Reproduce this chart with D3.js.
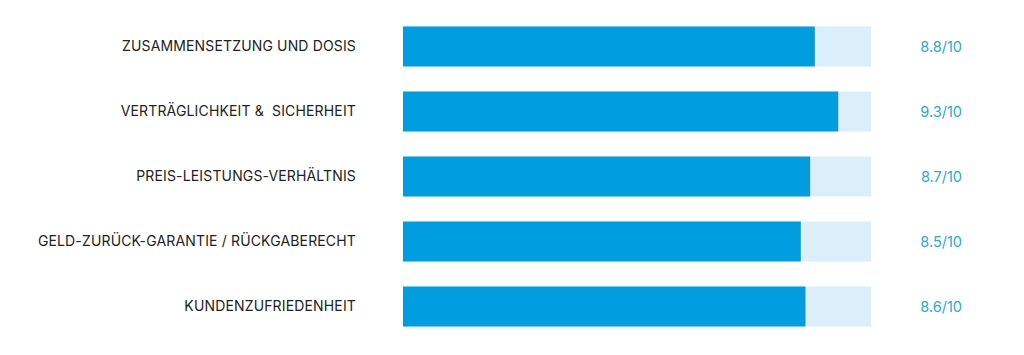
<!DOCTYPE html>
<html>
<head>
<meta charset="utf-8">
<script src="https://cdn.jsdelivr.net/npm/d3@7"></script>
<style>
  html, body { margin: 0; padding: 0; background: #ffffff; }
  svg { display: block; }
</style>
</head>
<body>
<script>
const categories = [
  "ZUSAMMENSETZUNG UND DOSIS",
  "VERTRÄGLICHKEIT &  SICHERHEIT",
  "PREIS-LEISTUNGS-VERHÄLTNIS",
  "GELD-ZURÜCK-GARANTIE / RÜCKGABERECHT",
  "KUNDENZUFRIEDENHEIT"
];
const scores = [8.8, 9.3, 8.7, 8.5, 8.6];
const maxScore = 10;
const scoreLabels = ["8.8/10", "9.3/10", "8.7/10", "8.5/10", "8.6/10"];

const W = 1024, H = 355;
const svg = d3.select("body").append("svg").attr("width", W).attr("height", H);

const x = d3.scaleLinear().domain([0, maxScore]).range([403, 871]);
const y = d3.scaleBand().domain(categories).range([13.5, 339.5]).paddingInner(0.385).paddingOuter(0.2);

const font = "Inter, 'Open Sans', sans-serif";

const rows = svg.selectAll("g.row").data(categories).join("g").attr("class", "row");

rows.append("rect")
  .attr("x", x(0))
  .attr("y", d => y(d))
  .attr("width", x(maxScore) - x(0))
  .attr("height", y.bandwidth())
  .attr("fill", "#daeff9");

rows.append("rect")
  .attr("x", x(0))
  .attr("y", d => y(d))
  .attr("width", (d, i) => x(scores[i]) - x(0))
  .attr("height", y.bandwidth())
  .attr("fill", "#009ee0");

rows.append("text")
  .attr("x", 356)
  .attr("y", d => y(d) + y.bandwidth() / 2)
  .attr("dy", "0.35em")
  .attr("text-anchor", "end")
  .attr("font-family", font)
  .attr("font-size", 14)
  .attr("letter-spacing", 0.15)
  .attr("fill", "#222222")
  .style("white-space", "pre")
  .text(d => d);

rows.append("text")
  .attr("x", 962)
  .attr("y", d => y(d) + y.bandwidth() / 2)
  .attr("dy", "0.35em")
  .attr("text-anchor", "end")
  .attr("font-family", font)
  .attr("font-size", 14.5)
  .attr("fill", "#2aa8dc")
  .text((d, i) => scoreLabels[i]);
</script>
</body>
</html>
